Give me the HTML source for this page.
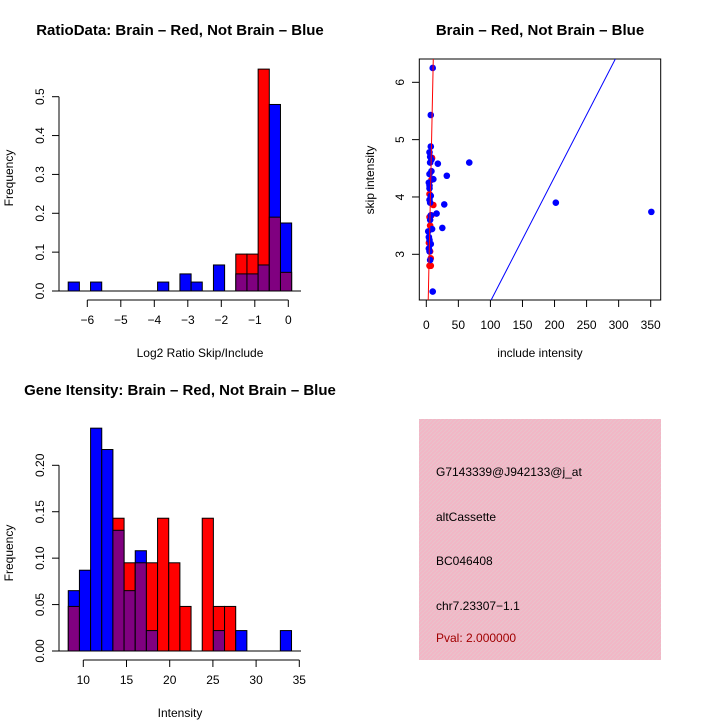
<!DOCTYPE html>
<html><head><meta charset="utf-8"><style>
body{margin:0;background:#fff}
svg{display:block;font-family:"Liberation Sans",sans-serif}
</style></head><body>
<svg id="c" width="720" height="720" xmlns="http://www.w3.org/2000/svg">
<rect width="720" height="720" fill="#fff"/>
<text x="180" y="35" text-anchor="middle" font-size="15" font-weight="bold">RatioData: Brain – Red, Not Brain – Blue</text>
<text x="540" y="35" text-anchor="middle" font-size="15" font-weight="bold">Brain – Red, Not Brain – Blue</text>
<text x="180" y="395" text-anchor="middle" font-size="15" font-weight="bold">Gene Itensity: Brain – Red, Not Brain – Blue</text>
<text x="200" y="357" text-anchor="middle" font-size="12">Log2 Ratio Skip/Include</text>
<text transform="translate(13,178) rotate(-90)" text-anchor="middle" font-size="12">Frequency</text>
<text x="540" y="357" text-anchor="middle" font-size="12">include intensity</text>
<text transform="translate(374,180) rotate(-90)" text-anchor="middle" font-size="12">skip intensity</text>
<text x="180" y="717" text-anchor="middle" font-size="12">Intensity</text>
<text transform="translate(13,553) rotate(-90)" text-anchor="middle" font-size="12">Frequency</text>
<defs><pattern id="hp" width="4" height="4" patternUnits="userSpaceOnUse"><rect width="4" height="4" fill="#f2b6c6"/><path d="M0 4L4 0" stroke="#e8c4cc" stroke-width="1"/></pattern></defs>
<rect x="419" y="419" width="242" height="241" fill="url(#hp)"/>
<g font-size="12">
<text x="436" y="476">G7143339@J942133@j_at</text>
<text x="436" y="521">altCassette</text>
<text x="436" y="565">BC046408</text>
<text x="436" y="610">chr7.23307−1.1</text>
<text x="436" y="642" fill="#a00000">Pval: 2.000000</text>
</g>
<g id="g"></g>
</svg>
<script>
const ratioRed=[0,0,0,0,0,0,0,0,0,0,0,0,0,0,0,0.095,0.095,0.571,0.19,0.048];
const ratioBlue=[0.023,0,0.023,0,0,0,0,0,0.023,0,0.044,0.023,0,0.067,0,0.044,0.044,0.067,0.48,0.175];
const ratioStart=-6.57, ratioWidth=0.3335;
const ratioXTicks=[-6,-5,-4,-3,-2,-1,0];
const ratioYTicks=["0.0","0.1","0.2","0.3","0.4","0.5"];
const intRed=[0.048,0,0,0,0.143,0.095,0.095,0.095,0.143,0.095,0.048,0,0.143,0.048,0.048,0,0,0,0,0];
const intBlue=[0.065,0.087,0.24,0.217,0.13,0.065,0.108,0.022,0,0,0,0,0,0.022,0,0.022,0,0,0,0.022];
const intStart=8.26, intWidth=1.292;
const intXTicks=[10,15,20,25,30,35];
const intYTicks=["0.00","0.05","0.10","0.15","0.20"];
const blueX=[10,7,7,5,6,8,6,18,67,8,5,32,11,4,5,5,7,5,6,28,202,351,16,7,6,25,9,3,4,5,7,4,5,6,10];
const blueY=[6.25,5.43,4.88,4.78,4.7,4.65,4.6,4.58,4.6,4.45,4.4,4.37,4.31,4.25,4.2,4.15,4.02,3.95,3.9,3.87,3.9,3.74,3.71,3.68,3.6,3.46,3.44,3.4,3.3,3.25,3.18,3.1,3.05,2.9,2.35];
const redX=[5,7,7,6,4,6,5,8,11,5,9,8];
const redY=[2.8,2.8,2.93,3.05,3.2,3.5,3.65,3.68,3.86,4.05,4.68,4.3];
const scatXTicks=[0,50,100,150,200,250,300,350];
const scatYTicks=[3,4,5,6];
const blueFit=[0.008,0.0217];
const redFit=[0.6,0.533];

const NS="http://www.w3.org/2000/svg", G=document.getElementById('g');
function mk(t,a,p){const e=document.createElementNS(NS,t);for(const k in a)e.setAttribute(k,a[k]);(p||G).appendChild(e);return e;}

function hist(red,blue,start,w,xs,ys,x0,x1,y0,y1,xTicks,yTicks,axisY,name){
  const X=v=>x0+(v-xs[0])*(x1-x0)/(xs[1]-xs[0]);
  const Y=v=>y0-(v-ys[0])*(y0-y1)/(ys[1]-ys[0]);
  mk('line',{x1:52,x2:301,y1:Y(0),y2:Y(0),stroke:'#000'});
  for(let i=0;i<red.length;i++){
    const a=X(start+i*w),b=X(start+(i+1)*w);
    const r=red[i],bl=blue[i];
    const hi=Math.max(r,bl),lo=Math.min(r,bl);
    if(hi>0){const e=mk('rect',{x:a,y:Y(hi),width:b-a,height:Y(0)-Y(hi),fill:r>=bl?'#ff0000':'#0000ff',stroke:'#000','stroke-width':1});
      
      }
    if(lo>0){const e=mk('rect',{x:a,y:Y(lo),width:b-a,height:Y(0)-Y(lo),fill:'#800080',stroke:'#000','stroke-width':1});
      
      }
  }
  mk('line',{x1:X(xTicks[0]),x2:X(xTicks[xTicks.length-1]),y1:axisY,y2:axisY,stroke:'#000'});
  xTicks.forEach(t=>{mk('line',{x1:X(t),x2:X(t),y1:axisY,y2:axisY+7,stroke:'#000'});
    const e=mk('text',{x:X(t),y:axisY+24,'text-anchor':'middle','font-size':12});e.textContent=String(t).replace('-','−');
    
    });
  const yv=yTicks.map(Number);
  mk('line',{x1:59,x2:59,y1:Y(yv[0]),y2:Y(yv[yv.length-1]),stroke:'#000'});
  yTicks.forEach(t=>{const y=Y(+t);mk('line',{x1:52,x2:59,y1:y,y2:y,stroke:'#000'});
    const e=mk('text',{transform:`translate(44,${y}) rotate(-90)`,'text-anchor':'middle','font-size':12});e.textContent=t;
    
    });
}
hist(ratioRed,ratioBlue,ratioStart,ratioWidth,[-6,0],[0,0.5],87.3,288.3,291,96.7,ratioXTicks,ratioYTicks,300,'ratio');
hist(intRed,intBlue,intStart,intWidth,[10,35],[0,0.2],83.3,299.3,651,465.3,intXTicks,intYTicks,660,'intensity');

const SX=v=>426.3+v*(650.7-426.3)/350, SY=v=>254.3-(v-3)*57.33;
const box=mk('rect',{x:419.3,y:59,width:241.4,height:241,fill:'none',stroke:'#000'});


scatXTicks.forEach(t=>{mk('line',{x1:SX(t),x2:SX(t),y1:300,y2:307,stroke:'#000'});
  const e=mk('text',{x:SX(t),y:329,'text-anchor':'middle','font-size':12});e.textContent=t;
  
  });
scatYTicks.forEach(t=>{mk('line',{x1:412,x2:419.3,y1:SY(t),y2:SY(t),stroke:'#000'});
  const e=mk('text',{transform:`translate(404,${SY(t)}) rotate(-90)`,'text-anchor':'middle','font-size':12});e.textContent=t;
  
  });
const clip=mk('clipPath',{id:'cp'});mk('rect',{x:419.3,y:59,width:241.4,height:241},clip);
const pg=mk('g',{'clip-path':'url(#cp)'});
for(let i=0;i<redX.length;i++){const e=mk('circle',{cx:SX(redX[i]),cy:SY(redY[i]),r:3.3,fill:'#ff0000'},pg);
  
  }
for(let i=0;i<blueX.length;i++){const e=mk('circle',{cx:SX(blueX[i]),cy:SY(blueY[i]),r:3.3,fill:'#0000ff'},pg);
  
  }
function fit(c,col,n){const xa=-10,xb=400;const e=mk('line',{x1:SX(xa),y1:SY(c[0]+c[1]*xa),x2:SX(xb),y2:SY(c[0]+c[1]*xb),stroke:col,'stroke-width':1},pg);
  
  }
fit(blueFit,'#0000ff','blue-fit-line');
fit(redFit,'#ff0000','red-fit-line');
</script>
</body></html>
